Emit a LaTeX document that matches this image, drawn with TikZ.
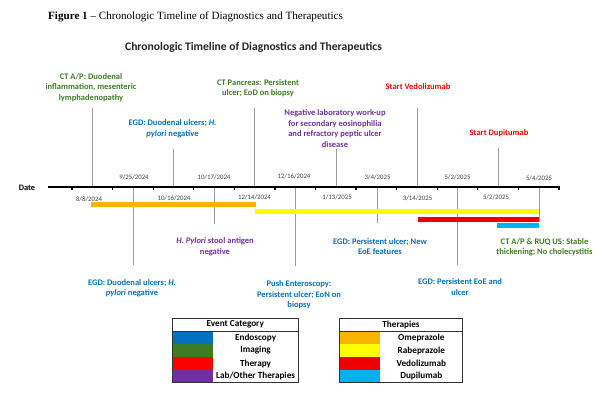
\documentclass[tikz,border=0pt]{standalone}
\usepackage{fontspec}
\setmainfont{Carlito}
\newfontfamily\timesf{Liberation Serif}
\definecolor{endoC}{HTML}{0070C0}
\definecolor{imgC}{HTML}{3B7D23}
\definecolor{labC}{HTML}{7030A0}
\definecolor{thC}{HTML}{FF0000}
\definecolor{omeC}{HTML}{F7B500}
\definecolor{rabC}{HTML}{FFFF00}
\definecolor{vedC}{HTML}{EE0000}
\definecolor{dupC}{HTML}{00B0F0}
\definecolor{dateC}{HTML}{404040}
\definecolor{lineC}{HTML}{9A9A9A}
\begin{document}
\begin{tikzpicture}[x=1pt,y=-1pt,
  lbl/.style={font=\fontsize{8.5}{10.5}\selectfont\bfseries, align=center, inner sep=0pt},
  endo/.style={lbl, text=endoC},
  imgc/.style={lbl, text=imgC},
  labc/.style={lbl, text=labC},
  thc/.style={lbl, text=thC},
  dt/.style={font=\fontsize{6.8}{7}\selectfont, text=dateC, inner sep=0pt},
  evline/.style={draw=lineC, line width=0.9pt},
  legtxt/.style={font=\fontsize{9.2}{10}\selectfont\bfseries, inner sep=0pt},
  legbox/.style={draw=black!80, line width=0.7pt}
]
\path[use as bounding box, fill=white] (0,0) rectangle (610,408);

% titles
\node[anchor=base west, inner sep=0pt, font=\timesf\fontsize{11.1}{12}\selectfont] (fig) at (48,19)
  {\textbf{Figure 1} – Chronologic Timeline of Diagnostics and Therapeutics};
\node[inner sep=0pt, font=\fontsize{11.6}{13}\selectfont\bfseries, text=black!85] (title) at (253.5,47)
  {Chronologic Timeline of Diagnostics and Therapeutics};

% axis
\node[font=\fontsize{8.3}{9}\selectfont\bfseries, inner sep=0pt] (datelbl) at (27,188) {Date};
\coordinate (axL) at (48,187);
\coordinate (axR) at (560,187);

% event line coordinates: upper
\coordinate (u1t) at (92,108);  \coordinate (u1a) at (92,187);
\coordinate (u2t) at (173,149); \coordinate (u2a) at (173,187);
\coordinate (u3t) at (254,108); \coordinate (u3a) at (254,187);
\coordinate (u4t) at (336,149); \coordinate (u4a) at (336,187);
\coordinate (u5t) at (417,108); \coordinate (u5a) at (417,187);
\coordinate (u6t) at (498,148); \coordinate (u6a) at (498,187);
% lower
\coordinate (l1a) at (133,187); \coordinate (l1b) at (133,265);
\coordinate (l2a) at (214,187); \coordinate (l2b) at (214,224);
\coordinate (l3a) at (295,187); \coordinate (l3b) at (295,266);
\coordinate (l4a) at (377,187); \coordinate (l4b) at (377,223);
\coordinate (l5a) at (457,187); \coordinate (l5b) at (457,265);
\coordinate (l6a) at (539,187); \coordinate (l6b) at (539,222);

\foreach \a/\b in {u1t/u1a,u2t/u2a,u3t/u3a,u4t/u4a,u5t/u5a,u6t/u6a,l1a/l1b,l2a/l2b,l3a/l3b,l4a/l4b,l5a/l5b,l6a/l6b}
  \draw[evline] (\a) -- (\b);

% bars
\fill[omeC] (90.5,202) rectangle (256,207);
\fill[rabC] (255,208.5) rectangle (539,214);
\fill[vedC] (418,216.5) rectangle (539,221.5);
\fill[dupC] (497,223) rectangle (539,227.5);

% axis on top
\draw[line width=1.8pt] (axL) -- (axR);
\foreach \k in {0,...,12}
  \draw[line width=1.2pt] (72+40.58*\k,187) -- ++(0,3);

% upper labels
\node[imgc] (e1) at (91,87.5) {CT A/P: Duodenal\\inflammation, mesenteric\\lymphadenopathy};
\node[endo] (e2) at (172.5,128.5) {EGD: Duodenal ulcers; \textit{H.}\\\textit{pylori} negative};
\node[imgc] (e3) at (258,88) {CT Pancreas: Persistent\\ulcer; EoD on biopsy};
\node[labc] (e4) at (335,128.5) {Negative laboratory work-up\\for secondary eosinophilia\\and refractory peptic ulcer\\disease};
\node[thc] (e5) at (418,87) {Start Vedolizumab};
\node[thc] (e6) at (499,133) {Start Dupitumab};

% lower labels
\node[endo] (f1) at (132,288) {EGD: Duodenal ulcers; \textit{H.}\\\textit{pylori} negative};
\node[labc] (f2) at (215,246.5) {\textit{H. Pylori} stool antigen\\negative};
\node[endo] (f3) at (299,295) {Push Enteroscopy:\\Persistent ulcer; EoN on\\biopsy};
\node[endo] (f4) at (380,246.5) {EGD: Persistent ulcer; New\\EoE features};
\node[endo] (f5) at (460,287) {EGD: Persistent EoE and\\ulcer};
\node[imgc] (f6) at (544.5,247) {CT A/P \& RUQ US: Stable\\thickening; No cholecystitis};

% date labels above axis
\node[dt] (d1) at (134,177) {9/25/2024};
\node[dt] (d2) at (214,177) {10/17/2024};
\node[dt] (d3) at (294,176.5) {12/16/2024};
\node[dt] (d4) at (377.5,177) {3/4/2025};
\node[dt] (d5) at (457.5,177) {5/2/2025};
\node[dt] (d6) at (539,178) {5/4/2025};
% date labels below axis
\node[dt] (g1) at (89,199) {8/8/2024};
\node[dt] (g2) at (174,198) {10/16/2024};
\node[dt] (g3) at (254.5,197) {12/14/2024};
\node[dt] (g4) at (337,197) {1/13/2025};
\node[dt] (g5) at (417.5,198) {3/14/2025};
\node[dt] (g6) at (496,197) {5/2/2025};

% legend: event category
\fill[endoC] (172.7,331) rectangle (213.3,344);
\fill[imgC]  (172.7,344) rectangle (213.3,357);
\fill[thC]   (172.7,357) rectangle (213.3,370);
\fill[labC]  (172.7,370) rectangle (213.3,382.7);
\draw[legbox] (172.7,318) rectangle (298,382.7);
\draw[legbox] (172.7,331) -- (298,331);
\node[legtxt] (ech) at (235.3,324.5) {Event Category};
\node[legtxt] (ec1) at (255.6,337.5) {Endoscopy};
\node[legtxt] (ec2) at (255.6,350.5) {Imaging};
\node[legtxt] (ec3) at (255.6,363.5) {Therapy};
\node[legtxt] (ec4) at (255.6,376.3) {Lab/Other Therapies};

% legend: therapies
\fill[omeC] (339.3,331) rectangle (380,344);
\fill[rabC] (339.3,344) rectangle (380,357);
\fill[vedC] (339.3,357) rectangle (380,370);
\fill[dupC] (339.3,370) rectangle (380,382.7);
\draw[legbox] (339.3,318) rectangle (462.7,382.7);
\draw[legbox] (339.3,331) -- (462.7,331);
\node[legtxt] (thh) at (401,324.5) {Therapies};
\node[legtxt] (th1) at (421.3,337.5) {Omeprazole};
\node[legtxt] (th2) at (421.3,350.5) {Rabeprazole};
\node[legtxt] (th3) at (421.3,363.5) {Vedolizumab};
\node[legtxt] (th4) at (421.3,376.3) {Dupilumab};
\end{tikzpicture}
\end{document}
